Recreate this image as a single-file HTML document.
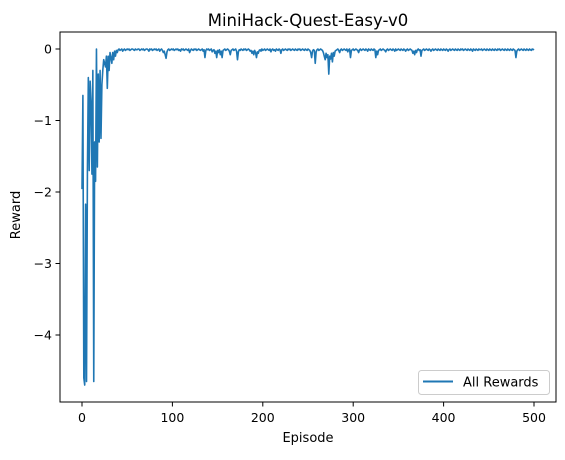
<!DOCTYPE html>
<html><head><meta charset="utf-8"><style>
body{margin:0;background:#fff}
svg text{font-family:"DejaVu Sans","Liberation Sans",sans-serif;fill:#000}
</style></head><body>
<svg id="chart" width="565" height="455">
<rect x="0" y="0" width="565" height="455" fill="#fff"/>
<text x="308" y="26" font-size="16.5" text-anchor="middle">MiniHack-Quest-Easy-v0</text>
<g id="plot"></g>
<rect x="60" y="32" width="496" height="370" fill="none" stroke="#000" stroke-width="1"/>
<g id="xt"></g><g id="yt"></g>
<text x="308" y="442" font-size="13" text-anchor="middle">Episode</text>
<text x="20" y="215" font-size="13" text-anchor="middle" transform="rotate(-90 20 215)">Reward</text>
<g>
<rect x="418.5" y="370.5" width="131" height="24" rx="3" fill="#fff" stroke="#ccc"/>
<line x1="423" y1="381.5" x2="453" y2="381.5" stroke="#1f77b4" stroke-width="2"/>
<text x="463" y="386.5" font-size="13">All Rewards</text>
</g>
</svg>
<script>
const rewardsEarly=[-1.96,-0.65,-4.6,-4.7,-2.17,-4.65,-1.7,-0.4,-1.7,-0.45,-0.75,-1.75,-0.3,-4.65,-1.3,-1.85,0,-1.65,-0.35,-1.3,-0.3,-1.25,-0.5,-0.3,-0.15,-0.2,-0.25,-0.1,-0.55,-0.1,-0.3,-0.05,-0.12,-0.2,-0.05,-0.15,-0.03,-0.1,-0.02,-0.05,-0.01];
const rewardsLate=[0,-0.02,-0.01,0,-0.03,-0.01,0,-0.02,-0.01,0,-0.01,0,-0.02,-0.01,0,0,-0.01,-0.02,0,-0.01,
-0.01,0,0,-0.02,-0.01,0,-0.01,0,-0.02,-0.01,0,0,-0.01,-0.03,0,-0.01,0,-0.02,-0.01,0,
-0.01,0,-0.02,-0.01,0,-0.03,-0.01,0,-0.02,-0.05,-0.03,-0.08,-0.13,-0.04,-0.01,0,-0.02,-0.01,0,-0.01,
0,-0.02,-0.01,0,-0.01,0,-0.02,-0.01,-0.03,0,-0.01,0,-0.02,-0.01,0,-0.01,-0.02,0,-0.05,-0.02,
0,-0.01,-0.02,0,-0.01,0,-0.02,-0.01,0,-0.01,-0.02,-0.01,0,-0.03,-0.01,-0.12,-0.02,0,-0.01,0,
-0.02,-0.01,0,-0.04,-0.02,-0.01,-0.06,-0.03,-0.12,-0.02,-0.05,-0.01,-0.08,-0.03,-0.12,-0.02,-0.01,0,-0.02,-0.01,
0,-0.01,-0.03,-0.08,-0.02,-0.01,0,-0.02,-0.01,0,-0.03,-0.15,-0.04,-0.01,-0.02,0,-0.01,-0.02,0,-0.01,
0,-0.02,-0.01,0,-0.01,-0.03,-0.02,-0.06,-0.03,-0.08,-0.02,-0.05,-0.12,-0.04,-0.06,-0.02,-0.01,-0.03,0,-0.02,
-0.01,0,-0.02,-0.01,0,-0.01,-0.02,0,-0.04,-0.01,0,-0.02,-0.01,-0.03,0,-0.01,-0.02,0,-0.01,-0.06,
-0.01,0,-0.02,-0.01,0,-0.01,-0.02,0,-0.01,0,-0.02,-0.01,0,-0.01,-0.02,0,-0.01,-0.02,0,-0.01,
0,-0.02,-0.01,0,-0.01,-0.02,0,-0.01,-0.02,0,-0.01,-0.02,-0.05,-0.12,-0.03,-0.01,-0.02,-0.2,-0.04,-0.01,
0,-0.02,-0.01,0,-0.01,-0.02,-0.05,-0.1,-0.15,-0.06,-0.12,-0.08,-0.35,-0.1,-0.14,-0.06,-0.18,-0.05,-0.1,-0.03,
-0.02,-0.01,0,-0.02,-0.05,-0.01,0,-0.02,-0.01,0,-0.01,-0.02,0,-0.04,-0.01,0,-0.12,-0.02,-0.01,0,
-0.02,-0.01,0,-0.01,-0.02,-0.05,-0.01,0,-0.02,-0.01,0,-0.01,-0.02,0,-0.01,-0.03,0,-0.01,-0.02,0,
-0.01,-0.02,0,-0.01,-0.12,-0.03,-0.08,-0.02,-0.01,0,-0.02,-0.01,0,-0.01,-0.02,-0.04,-0.01,0,-0.02,-0.01,
0,-0.01,-0.02,0,-0.01,-0.03,0,-0.02,-0.01,0,-0.01,-0.02,0,-0.01,-0.02,0,-0.01,-0.03,-0.01,0,
-0.02,-0.01,0,-0.01,-0.02,-0.06,-0.03,-0.08,-0.02,-0.05,-0.01,0,-0.02,-0.01,-0.1,-0.02,-0.01,0,-0.02,-0.01,
0,-0.01,-0.02,0,-0.01,-0.03,-0.01,0,-0.02,-0.01,0,-0.01,-0.02,0,-0.01,-0.02,0,-0.01,-0.02,0,
-0.01,-0.02,0,-0.01,-0.03,-0.01,0,-0.02,-0.01,0,-0.01,-0.02,0,-0.01,-0.02,0,-0.01,-0.02,0,-0.01,
0,-0.02,-0.01,0,-0.01,-0.02,0,-0.01,-0.02,0,-0.01,-0.03,0,-0.01,-0.02,0,-0.01,-0.02,0,-0.01,
-0.01,0,-0.02,-0.01,0,-0.01,-0.02,0,-0.01,-0.02,0,-0.01,-0.02,0,-0.01,-0.02,0,-0.01,-0.02,0,
-0.01,0,-0.02,-0.01,0,-0.01,-0.02,0,-0.01,-0.02,0,-0.01,-0.02,0,-0.01,-0.02,0,-0.01,-0.02,-0.12,
-0.03,-0.01,0,-0.02,-0.01,0,-0.01,-0.02,0,-0.01,-0.02,0,-0.01,-0.02,0,-0.01,-0.02,0,-0.01,0];
const xTicks=[0,100,200,300,400,500];
const yTicks=[0,-1,-2,-3,-4];
const rewards=rewardsEarly.concat(rewardsLate);
const NS="http://www.w3.org/2000/svg";
function xs(v){return 82+v*(534-82)/500;}
function ys(v){return 49+(-v)*(335-49)/4;}
const plot=document.getElementById('plot');
let d='';
rewards.forEach((v,i)=>{d+=(i?'L':'M')+xs(i).toFixed(2)+' '+ys(v).toFixed(2);});
const p=document.createElementNS(NS,'path');
p.setAttribute('d',d);p.setAttribute('fill','none');p.setAttribute('stroke','#1f77b4');p.setAttribute('stroke-width','1.6');p.setAttribute('stroke-linejoin','round');


plot.appendChild(p);
const xt=document.getElementById('xt');
xTicks.forEach(t=>{
 const l=document.createElementNS(NS,'line');
 l.setAttribute('x1',xs(t));l.setAttribute('x2',xs(t));l.setAttribute('y1',402);l.setAttribute('y2',406.5);l.setAttribute('stroke','#000');
 
 
 xt.appendChild(l);
 const tx=document.createElementNS(NS,'text');
 tx.setAttribute('x',xs(t));tx.setAttribute('y',422);tx.setAttribute('font-size','12.5');tx.setAttribute('text-anchor','middle');tx.textContent=t;
 
 
 xt.appendChild(tx);
});
const yt=document.getElementById('yt');
yTicks.forEach(t=>{
 const l=document.createElementNS(NS,'line');
 l.setAttribute('x1',55.5);l.setAttribute('x2',60);l.setAttribute('y1',ys(t));l.setAttribute('y2',ys(t));l.setAttribute('stroke','#000');
 
 
 yt.appendChild(l);
 const tx=document.createElementNS(NS,'text');
 tx.setAttribute('x',52);tx.setAttribute('y',ys(t)+4.5);tx.setAttribute('font-size','12.5');tx.setAttribute('text-anchor','end');
 tx.textContent=t<0?'\u2212'+Math.abs(t):String(t);
 
 
 yt.appendChild(tx);
});
</script>
</body></html>
